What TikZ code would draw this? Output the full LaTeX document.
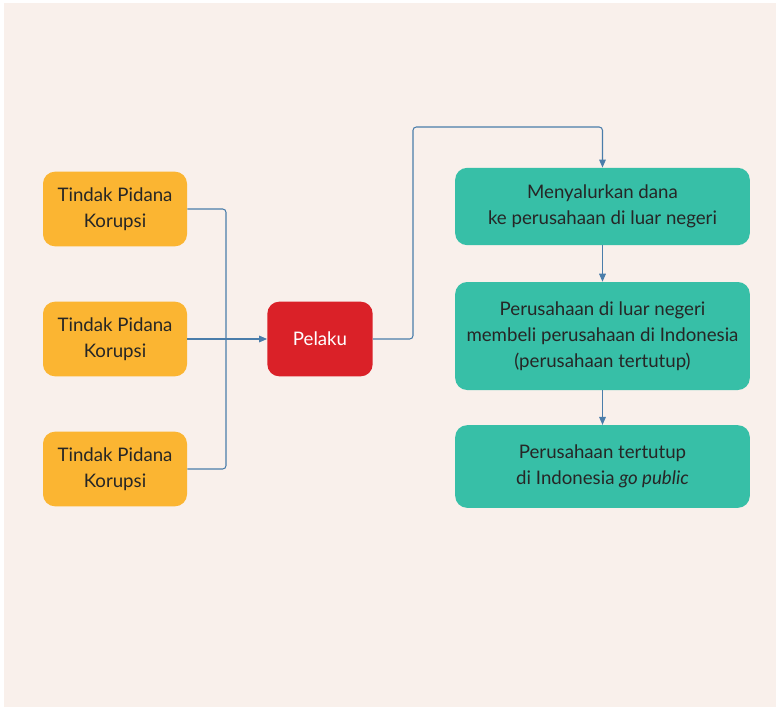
\documentclass[tikz,border=0pt]{standalone}
\usepackage{fontspec}
\setmainfont{Lato}
\usetikzlibrary{arrows.meta}
\definecolor{bgpink}{HTML}{F9F0EB}
\definecolor{tpkorange}{HTML}{FBB532}
\definecolor{pelakured}{HTML}{DA2128}
\definecolor{alurteal}{HTML}{37BFA7}
\definecolor{garisblue}{HTML}{4A7DAA}
\begin{document}
\begin{tikzpicture}[x=0.75pt,y=-0.75pt,
	every node/.style={rounded corners=9pt,align=center,inner sep=0pt,
		font=\fontsize{14}{19.5}\selectfont,text=black!85},
	tpk/.style={fill=tpkorange,minimum width=108pt,minimum height=56pt},
	pelaku/.style={fill=pelakured,text=white,minimum width=79pt,minimum height=56pt},
	alur/.style={fill=alurteal,minimum width=221pt},
	link/.style={draw=garisblue,line width=0.8pt,rounded corners=2.5pt},
	panah/.style={-{Triangle[length=6pt,width=5pt]}}]
\useasboundingbox (0,0) rectangle (776,707);
\fill[bgpink] (4,3) rectangle (776,707);
% sumber dana
\node[tpk] (tpk1) at (115,209) {Tindak Pidana\\Korupsi};
\node[tpk] (tpk2) at (115,339) {Tindak Pidana\\Korupsi};
\node[tpk] (tpk3) at (115,469) {Tindak Pidana\\Korupsi};
\node[pelaku] (plk) at (320,339) {Pelaku};
% alur dana
\node[alur,minimum height=58pt] (m1) at (602.5,206.5)
	{Menyalurkan dana\\ke perusahaan di luar negeri};
\node[alur,minimum height=81pt] (m2) at (602.5,336)
	{Perusahaan di luar negeri\\membeli perusahaan di Indonesia\\(perusahaan tertutup)};
\node[alur,minimum height=62pt] (m3) at (602.5,466.5)
	{Perusahaan tertutup\\di Indonesia \textit{go public}};
\coordinate (gabung) at (226,339);
\coordinate (atas) at (413,127);
\draw[link] (tpk1.east) -| (gabung);
\draw[link] (tpk3.east) -| (gabung);
\draw[link,panah] (tpk2.east) -- (plk.west);
\draw[link,panah] (plk.east) -| (atas) -| (m1.north);
\draw[link,panah] (m1.south) -- (m2.north);
\draw[link,panah] (m2.south) -- (m3.north);
\end{tikzpicture}
\end{document}
